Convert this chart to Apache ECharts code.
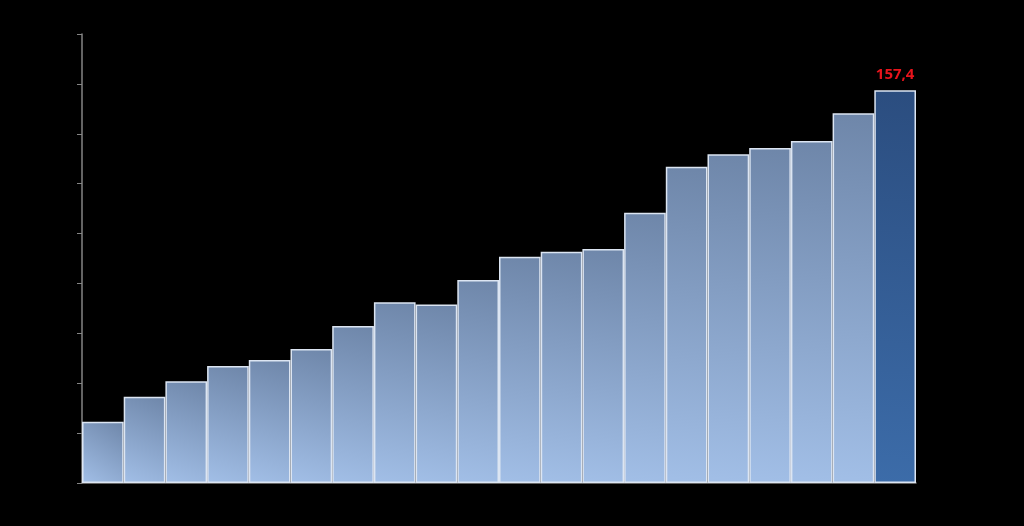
<!DOCTYPE html>
<html>
<head>
<meta charset="utf-8">
<script src="https://cdn.jsdelivr.net/npm/echarts@6/dist/echarts.min.js"></script>
<style>
  html, body { margin: 0; padding: 0; background: #000; }
  #chart { width: 1024px; height: 526px; }
</style>
</head>
<body>
<div id="chart"></div>
<script>
// values (last one is labelled)
var categories = ['1', '2', '3', '4', '5', '6', '7', '8', '9', '10',
    '11', '12', '13', '14', '15', '16', '17', '18', '19', '20'];
var values = [24.6, 34.6, 40.8, 46.9, 49.3, 53.7, 62.9, 72.5, 71.6, 81.4,
    90.7, 92.7, 93.8, 108.3, 126.8, 131.8, 134.3, 137.1, 148.2, 157.4];
var highlightIndex = 19;

// diagonal fill: darker top-right, lighter bottom-left
function barFill(dark, light) {
    return new echarts.graphic.LinearGradient(1, 0, 0, 1, [
        { offset: 0, color: dark },
        { offset: 1, color: light }
    ]);
}

var seriesData = values.map(function (v, i) {
    if (i === highlightIndex) {
        return {
            value: v,
            itemStyle: { color: barFill('#2b4d7f', '#3c6ca9') },
            label: {
                show: true,
                position: 'top',
                distance: 8,
                color: '#e8141c',
                fontWeight: 'bold',
                fontSize: 15,
                fontFamily: 'Open Sans',
                formatter: function (p) { return String(p.value).replace('.', ','); }
            }
        };
    }
    return { value: v };
});

var option = {
    backgroundColor: '#000',
    animation: false,
    grid: { left: 82, right: 108, top: 34, bottom: 43 },
    xAxis: {
        type: 'category',
        data: categories,
        axisLine: { lineStyle: { color: '#858585', width: 1.5 } },
        axisTick: { show: false },
        axisLabel: { show: false }
    },
    yAxis: {
        type: 'value',
        min: 0,
        max: 180,
        interval: 20,
        axisLine: { show: true, lineStyle: { color: '#858585', width: 1.5 } },
        axisTick: { show: true, length: 5, lineStyle: { color: '#858585' } },
        axisLabel: { show: false },
        splitLine: { show: false }
    },
    series: [
        {
            type: 'bar',
            data: seriesData,
            barWidth: '100%',
            itemStyle: {
                color: barFill('#6e86a9', '#a2bfe7'),
                borderColor: '#dce5f2',
                borderWidth: 1.5
            }
        }
    ]
};

var chart = echarts.init(document.getElementById('chart'));
chart.setOption(option);
</script>
</body>
</html>
